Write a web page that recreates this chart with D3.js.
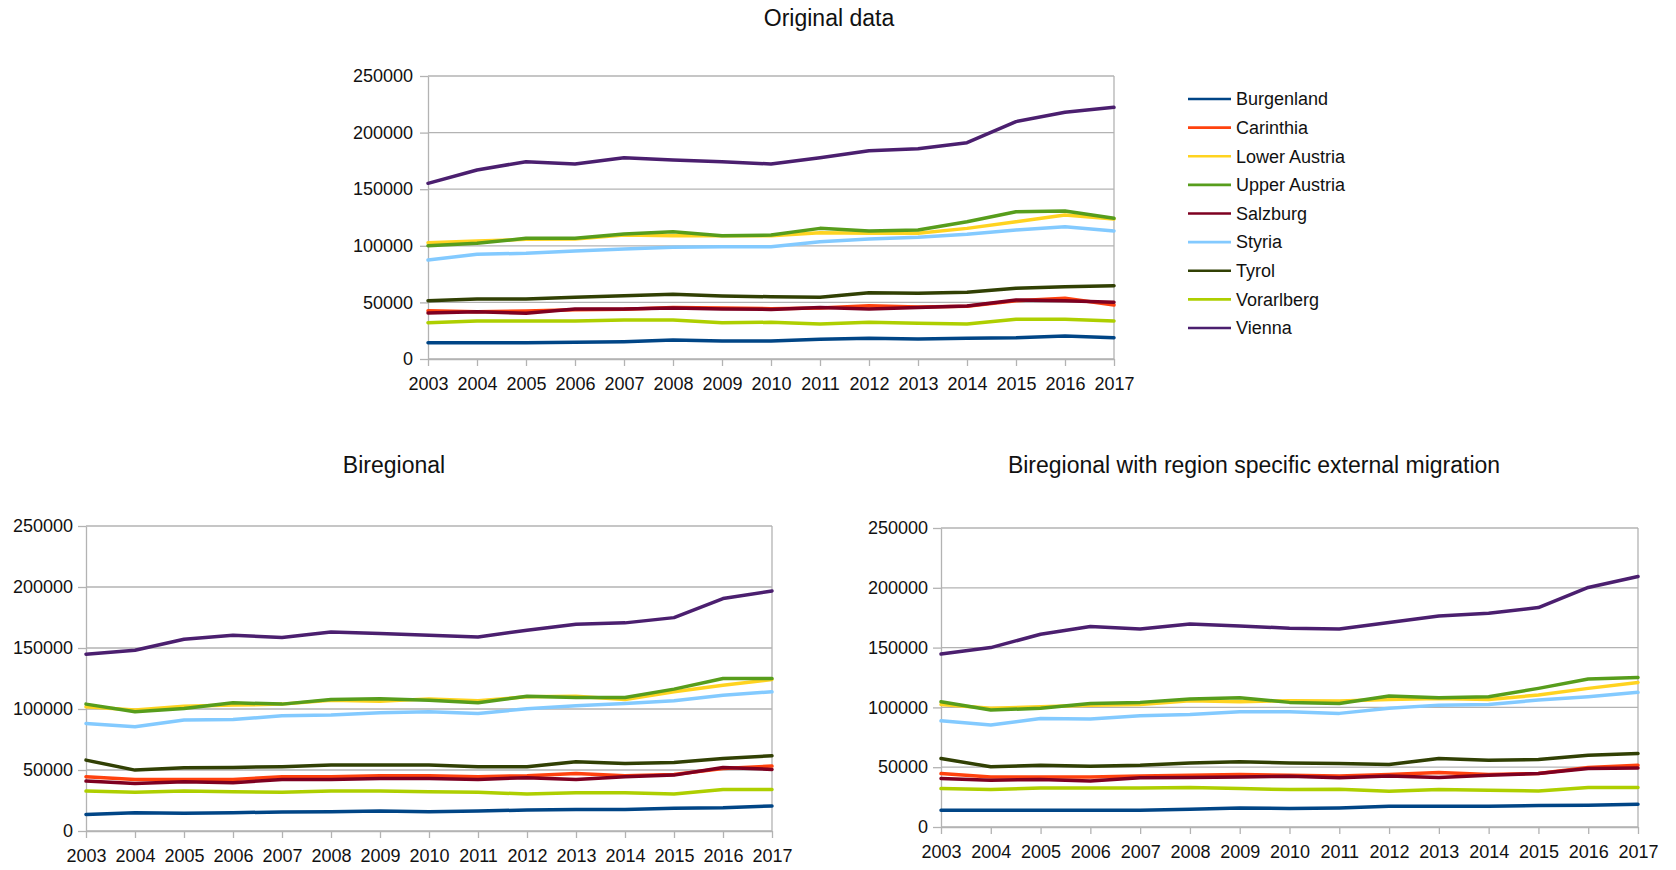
<!DOCTYPE html>
<html>
<head>
<meta charset="utf-8">
<script src="https://cdn.jsdelivr.net/npm/d3@7"></script>
<style>
  html, body { margin: 0; padding: 0; background: #fff; }
  svg { display: block; font-family: "Liberation Sans", Arial, sans-serif; }
</style>
</head>
<body>
<svg id="chart" width="1676" height="870"></svg>
<script>
// Foreign population by Austrian federal state, 2003–2017
const years = [2003, 2004, 2005, 2006, 2007, 2008, 2009, 2010, 2011, 2012, 2013, 2014, 2015, 2016, 2017];
const regions = ["Burgenland", "Carinthia", "Lower Austria", "Upper Austria", "Salzburg", "Styria", "Tyrol", "Vorarlberg", "Vienna"];
const regionColors = ["#004586", "#ff420e", "#ffd320", "#579d1c", "#7e0021", "#83caff", "#314004", "#aecf00", "#4b1f6f"];
const yTicks = [0, 50000, 100000, 150000, 200000, 250000];

// Rows follow the order of `regions`
const originalData = [
  [14400, 14400, 14400, 14700, 15300, 16800, 15900, 15900, 17400, 18300, 17700, 18300, 18800, 20300, 18800],
  [42700, 41800, 42300, 43500, 44000, 45500, 45000, 44500, 45000, 47100, 46000, 46500, 51500, 53600, 47700],
  [102700, 104200, 105700, 105900, 109500, 108900, 108900, 108900, 111600, 111000, 111000, 115400, 121300, 127200, 123700],
  [100100, 102200, 106600, 106600, 110400, 112500, 108900, 109500, 115400, 113100, 114000, 121300, 130100, 130700, 124300],
  [40600, 41800, 40400, 44200, 44200, 45000, 44200, 43800, 45600, 44200, 45600, 46800, 52100, 51500, 50100],
  [87500, 92500, 93400, 95400, 97200, 98700, 99200, 99200, 103600, 106000, 107500, 110200, 114000, 116900, 113100],
  [51500, 53000, 53000, 54500, 55900, 57100, 55700, 55000, 54500, 58600, 58000, 58900, 62500, 63900, 64800],
  [32100, 33600, 33600, 33600, 34500, 34500, 32100, 32400, 30900, 32400, 31500, 30900, 35100, 35100, 33600],
  [155200, 167000, 174300, 172300, 177800, 175800, 174300, 172300, 177800, 184000, 185800, 191100, 209700, 217900, 222300]
];

const biregionalData = [
  [13600, 15000, 14500, 15000, 15600, 15800, 16400, 15800, 16400, 17200, 17700, 17700, 18600, 19100, 20500],
  [44500, 42300, 42300, 42300, 44500, 44500, 45300, 45300, 44500, 45300, 47200, 45300, 46400, 51300, 53200],
  [101800, 99100, 102300, 103200, 104000, 107200, 106400, 108300, 106700, 110000, 110500, 107800, 114100, 119500, 124200],
  [104000, 97700, 100400, 105100, 104000, 107800, 108300, 107200, 105100, 110500, 109400, 109400, 116300, 125000, 125000],
  [40900, 39000, 40400, 39600, 42300, 42300, 43100, 43100, 42300, 43700, 42300, 44500, 45800, 52100, 50500],
  [88100, 85400, 90900, 91400, 94400, 95000, 96900, 97700, 96300, 100200, 102600, 104500, 106700, 111300, 114100],
  [58100, 49900, 51900, 52100, 52700, 54000, 54000, 54000, 52700, 52700, 56800, 55400, 56200, 59500, 61700],
  [32700, 31700, 32700, 32200, 31700, 32700, 32700, 32200, 31700, 30300, 31400, 31400, 30300, 34100, 34100],
  [144900, 148200, 157200, 160500, 158600, 163200, 161800, 160500, 159100, 164600, 169500, 170600, 174900, 190500, 196800]
];

const regionSpecificData = [
  [14000, 14000, 14000, 14000, 14000, 14800, 15900, 15400, 15900, 17300, 17300, 17300, 17900, 18200, 19000],
  [44700, 41900, 41900, 41900, 42700, 43300, 43800, 43300, 42700, 43800, 45500, 43800, 44700, 49700, 51700],
  [102500, 99200, 100500, 101900, 102500, 105600, 104700, 105600, 105300, 106700, 107500, 106700, 110300, 115900, 120900],
  [104700, 97800, 99200, 103300, 104200, 107000, 108100, 104200, 103300, 109500, 108100, 108900, 115900, 123700, 125100],
  [40500, 39100, 39700, 38500, 41100, 41300, 41900, 42500, 41100, 42700, 41300, 43300, 44700, 48900, 49400],
  [88800, 85200, 90800, 90200, 93000, 94100, 96400, 96400, 95000, 99200, 101900, 102500, 106100, 108900, 112600],
  [57300, 50300, 51700, 50800, 51700, 53600, 54500, 53600, 53100, 52200, 57300, 55900, 56400, 60000, 61400],
  [32100, 31300, 32700, 32700, 32700, 33000, 32100, 31300, 31600, 29900, 31300, 30700, 30200, 33000, 33000],
  [144700, 150000, 161200, 167600, 165600, 169800, 168100, 166200, 165600, 170900, 176500, 178800, 183500, 200300, 209500]
];

const svg = d3.select("#chart");
const GRID = "#b3b3b3";

function drawPanel(panel, data) {
  const g = svg.append("g");
  const x = d3.scalePoint().domain(years).range([panel.left, panel.right]);
  const y = d3.scaleLinear().domain([0, 250000]).range([panel.bottom, panel.top]);

  // horizontal gridlines
  g.append("g").selectAll("line").data(yTicks).join("line")
    .attr("x1", panel.left).attr("x2", panel.right)
    .attr("y1", d => y(d)).attr("y2", d => y(d))
    .attr("stroke", GRID).attr("stroke-width", 1.3);

  // right border of the plot area
  g.append("line")
    .attr("x1", panel.right).attr("x2", panel.right)
    .attr("y1", panel.top).attr("y2", panel.bottom)
    .attr("stroke", GRID).attr("stroke-width", 1.3);

  const yAxis = g.append("g")
    .attr("transform", `translate(${panel.left},0)`)
    .call(d3.axisLeft(y).tickValues(yTicks).tickSize(8).tickSizeOuter(0)
      .tickPadding(panel.yPad).tickFormat(d3.format("d")));

  const xAxis = g.append("g")
    .attr("transform", `translate(0,${panel.bottom})`)
    .call(d3.axisBottom(x).tickSize(7).tickSizeOuter(0).tickPadding(11).tickFormat(d3.format("d")));

  [yAxis, xAxis].forEach(ax => {
    ax.select(".domain").attr("stroke", GRID).attr("stroke-width", 1.3);
    ax.selectAll(".tick line").attr("stroke", GRID).attr("stroke-width", 1.3);
    ax.selectAll(".tick text")
      .attr("fill", "#111")
      .style("font-family", "'Liberation Sans', Arial, sans-serif")
      .style("font-size", "18px");
  });

  const line = d3.line().x((d, i) => x(years[i])).y(d => y(d));
  g.append("g").selectAll("path").data(data).join("path")
    .attr("d", d => line(d))
    .attr("fill", "none")
    .attr("stroke", (d, i) => regionColors[i])
    .attr("stroke-width", 3.5)
    .attr("stroke-linejoin", "round")
    .attr("stroke-linecap", "round");

  g.append("text")
    .attr("x", panel.titleX).attr("y", panel.titleY)
    .attr("text-anchor", "middle")
    .attr("fill", "#111")
    .style("font-size", "23px")
    .text(panel.title);
}

drawPanel({ left: 428, right: 1114, top: 76, bottom: 359, yPad: 7,
  title: "Original data", titleX: 829, titleY: 26 }, originalData);
drawPanel({ left: 86, right: 772, top: 526, bottom: 831, yPad: 5,
  title: "Biregional", titleX: 394, titleY: 473 }, biregionalData);
drawPanel({ left: 941, right: 1638, top: 528, bottom: 827, yPad: 5,
  title: "Biregional with region specific external migration", titleX: 1254, titleY: 473 }, regionSpecificData);

// legend
const legend = svg.append("g");
const rowY = d3.scalePoint().domain(regions).range([99, 328]);
const rows = legend.selectAll("g").data(regions).join("g")
  .attr("transform", d => `translate(0,${rowY(d)})`);
rows.append("line")
  .attr("x1", 1188).attr("x2", 1231)
  .attr("stroke", (d, i) => regionColors[i])
  .attr("stroke-width", 2.6);
rows.append("text")
  .attr("x", 1236).attr("dy", "0.35em")
  .attr("fill", "#111")
  .style("font-size", "18px")
  .text(d => d);
</script>
</body>
</html>
